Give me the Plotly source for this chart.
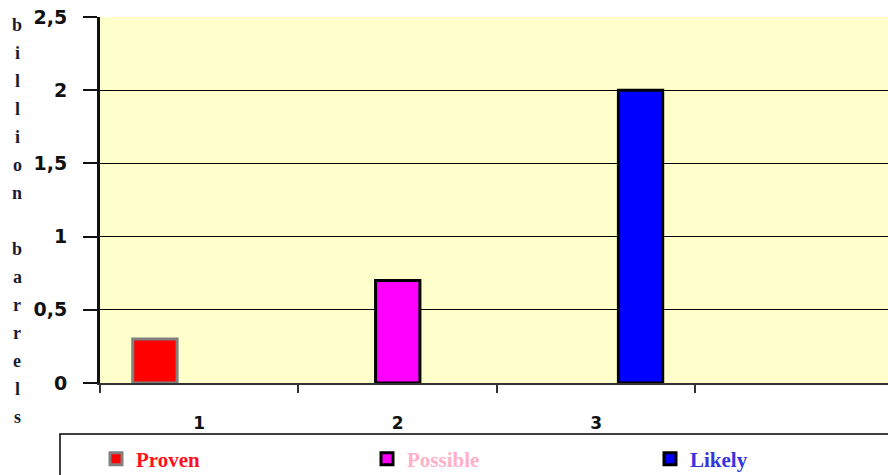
import plotly.graph_objects as go

categories = ["1", "2", "3", "4"]
tick_labels = ["1", "2", "3", ""]
series_names = ["Proven", "Possible", "Likely"]
proven = [0.3, None, None, None]
possible = [None, 0.7, None, None]
likely = [None, None, 2.0, None]
y_ticks = [0, 0.5, 1, 1.5, 2, 2.5]
y_title_letters = list("billion") + [""] + list("barrels")

fill_colors = ["#FF0000", "#FF00FF", "#0000FF"]
line_colors = ["#808080", "#000000", "#000000"]
legend_colors = ["#FF1020", "#FFB0C8", "#3535DD"]

# plot-area geometry in px (for annotation / legend placement)
L, T, B, R = 100, 17, 383, 888
PW, PH = R - L, B - T
legend_px = [96, 367, 650]
legend_names = ["legend", "legend2", "legend3"]

fig = go.Figure()
for name, vals, fc, lc, tc, lg in zip(series_names, [proven, possible, likely],
                                      fill_colors, line_colors, legend_colors,
                                      legend_names):
    fig.add_trace(go.Bar(
        x=categories, y=vals,
        name="<b><span style='color:%s'>%s</span></b>" % (tc, name),
        marker=dict(color=fc, line=dict(color=lc, width=3)),
        legend=lg,
    ))

annotations = []
for i, ch in enumerate(y_title_letters):
    if not ch:
        continue
    py = 25 + 28 * i
    annotations.append(dict(
        text="<b>%s</b>" % ch, x=(17 - L) / PW, y=(B - py) / PH,
        xref="paper", yref="paper", showarrow=False,
        font=dict(family="Liberation Serif", size=18, color="#1a1a33"),
        xanchor="center", yanchor="middle"))

legend_common = dict(orientation="h", xanchor="left",
                     y=(B - 459) / PH, yanchor="middle",
                     font=dict(family="Liberation Serif", size=21),
                     bgcolor="rgba(0,0,0,0)", borderwidth=0)

layout_legends = {}
for lg, px in zip(legend_names, legend_px):
    layout_legends[lg] = dict(legend_common, x=(px - L) / PW)

fig.update_layout(
    width=888, height=475,
    margin=dict(l=L, r=0, t=T, b=475 - B, pad=0, autoexpand=False),
    paper_bgcolor="white", plot_bgcolor="#FFFFCC",
    barmode="group", bargap=0.33, bargroupgap=0,
    separators=",.",
    showlegend=True,
    annotations=annotations,
    shapes=[dict(type="rect", xref="paper", yref="paper",
                 x0=(60 - L) / PW, x1=1.1, y0=(B - 434) / PH, y1=-0.5,
                 line=dict(color="#000000", width=1.5), fillcolor="rgba(0,0,0,0)")],
    xaxis=dict(type="category", categoryorder="array", categoryarray=categories,
               range=[-0.5, 3.47], tickmode="array", tickvals=categories,
               ticktext=tick_labels, tickson="boundaries", ticks="outside",
               ticklen=8, tickwidth=2, tickcolor="#333333",
               showline=True, linewidth=2, linecolor="#333333",
               showgrid=False, ticklabelstandoff=24,
               tickfont=dict(family="DejaVu Sans", size=17, color="#111111", weight="bold")),
    yaxis=dict(range=[0, 2.5], tickmode="array", tickvals=y_ticks,
               ticks="outside", ticklen=14, tickwidth=2, tickcolor="#111111",
               showline=True, linewidth=3, linecolor="#111111",
               showgrid=True, gridcolor="#000000", gridwidth=1,
               zeroline=False, ticklabelstandoff=12,
               tickfont=dict(family="DejaVu Sans", size=19, color="#111111", weight="bold")),
    **layout_legends,
)

fig.write_html("out.html")
